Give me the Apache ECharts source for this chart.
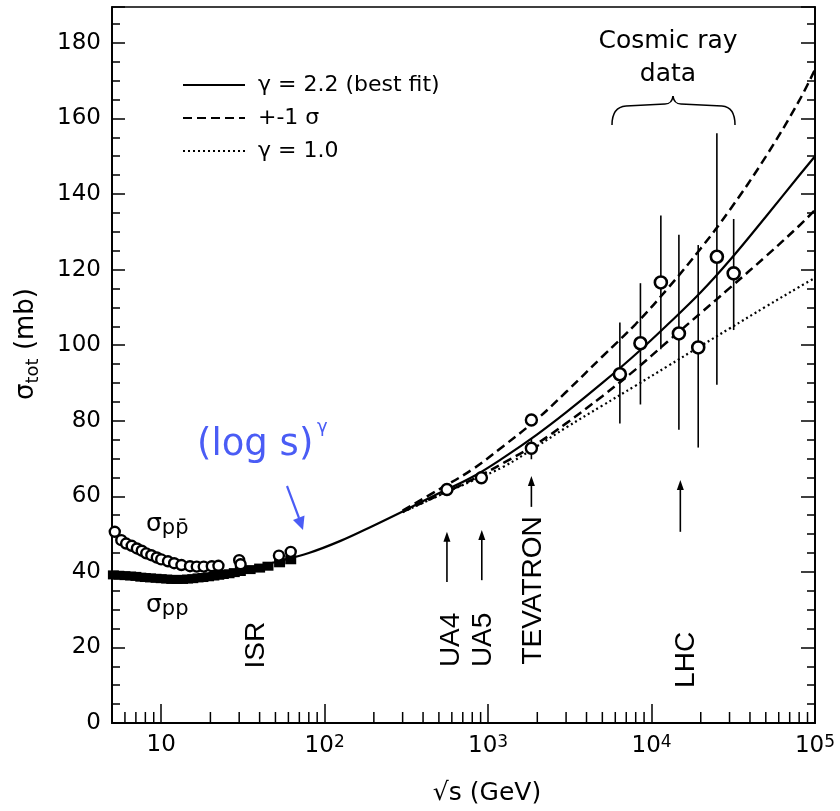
<!DOCTYPE html>
<html><head><meta charset="utf-8">
<script src="https://cdn.jsdelivr.net/npm/echarts@6/dist/echarts.min.js"></script>
<style>html,body{margin:0;padding:0;background:#fff}#c{width:840px;height:811px}</style>
</head><body><div id="c"></div>
<script>
// ---------------- data ----------------
const fitEnergy = [20,30,50,80,125,200,300,500,800,1250,2000,3000,5000,8000,12500,20000,30000,50000,80000,100000];
const fitBest   = [38.7,40.1,42.6,45.0,48.2,52.3,56.0,60.8,65.1,70.3,76.4,82.2,90.0,97.6,105.4,114.0,122.4,134.0,144.9,150.0];
const bandEnergy = [300,500,800,1250,2000,3000,5000,8000,12500,20000,30000,50000,80000,100000];
const fitUpper  = [56.2,61.8,67.1,73.4,80.5,87.6,97.0,105.6,114.9,125.6,135.7,149.9,164.7,173.0];
const fitLower  = [55.9,60.3,64.4,68.9,74.0,79.3,86.5,93.6,100.9,108.5,115.1,123.5,131.6,135.8];
const fitGamma1 = [55.8,60.2,64.1,67.9,73.3,78.2,84.0,89.3,94.4,99.8,104.4,110.2,115.4,117.8];

const ppbarEnergy = [5.2,5.7,6.1,6.6,7.1,7.6,8.1,8.7,9.4,10,11,12,13.3,15,16.5,18.2,20.4,22.4,30,30.6,52.5,62];
const ppbarSigma  = [50.6,48.4,47.5,46.9,46.2,45.6,44.9,44.4,43.8,43.3,42.8,42.3,41.8,41.5,41.4,41.4,41.5,41.6,43.1,42.0,44.3,45.3];

const ppEnergy = [5.1,5.5,6.0,6.5,7.0,7.5,8.0,8.6,9.3,10,10.8,11.6,12.5,13.5,14.5,15.6,16.8,18,19.5,21,22.5,24,26,28,30.5,35,40,45,53,62];
const ppSigma  = [39.2,39.1,39.0,38.9,38.8,38.6,38.5,38.4,38.3,38.2,38.1,38.0,38.0,38.0,38.1,38.2,38.4,38.5,38.7,38.9,39.1,39.3,39.5,39.8,40.1,40.6,41.0,41.5,42.4,43.2];

const accEnergy = [560, 910, 1840, 1840];
const accSigma  = [61.8, 64.9, 80.2, 72.7];
const accLow    = [60.8, 63.9, 78.8, 69.8];
const accHigh   = [62.8, 65.9, 81.6, 75.2];

const cosmicEnergy = [6400, 8550, 11400, 14700, 19300, 25100, 31800];
const cosmicSigma  = [92.3, 100.5, 116.6, 103.1, 99.4, 123.4, 119.0];
const cosmicLow    = [79.3, 84.3, 98.9, 77.6, 72.9, 89.5, 104.0];
const cosmicHigh   = [106.0, 116.4, 134.3, 129.2, 126.5, 156.1, 133.4];

const xMinorTicks = [6,7,8,9,20,30,40,50,60,70,80,90,200,300,400,500,600,700,800,900,
  2000,3000,4000,5000,6000,7000,8000,9000,20000,30000,40000,50000,60000,70000,80000,90000];

const experiments = [
  {name:'ISR',      labelE:38.2,  labelY:20.6},
  {name:'UA4',      arrowE:560,   a0:37.3, a1:50.6, labelE:594,   labelY:22.0},
  {name:'UA5',      arrowE:915,   a0:37.8, a1:51.1, labelE:935,   labelY:22.0},
  {name:'TEVATRON', arrowE:1840,  a0:57.2, a1:65.4, labelE:1897,  labelY:35.1},
  {name:'LHC',      arrowE:15000, a0:50.6, a1:64.3, labelE:16200, labelY:16.7}
];

const legendNames = ['γ = 2.2 (best fit)', '+-1 σ', 'γ = 1.0'];
const legendDash  = ['solid', [9,5], [2,3]];
const yLabels = [0,20,40,60,80,100,120,140,160,180];

// ---------------- chart ----------------
const chart = echarts.init(document.getElementById('c'), null, {renderer:'canvas'});
const F = 'DejaVu Sans';
const pair = (xs, ys) => xs.map((x,i)=>[x, ys[i]]);

function yAxisDef(pos, interval, len, labels){
  return {
    type:'value', position:pos, min:0, max:189.5, interval:interval,
    axisLine:{show:true, lineStyle:{color:'#000', width:1.5}},
    axisTick:{show:true, inside:true, length:len, lineStyle:{color:'#000', width:1.5}},
    splitLine:{show:false},
    axisLabel:{show:labels, margin:11, color:'#000', fontFamily:F, fontSize:23,
      formatter:v => yLabels.indexOf(v) >= 0 ? String(v) : ''}
  };
}

const errRender = (params, api) => {
  const x = api.value(0);
  const p1 = api.coord([x, api.value(1)]);
  const p2 = api.coord([x, api.value(2)]);
  return {type:'line', shape:{x1:p1[0], y1:p1[1], x2:p2[0], y2:p2[1]},
          style:{stroke:'#000', lineWidth:1.6}};
};

const option = {
  animation:false,
  backgroundColor:'#fff',
  grid:{left:112, right:25, top:7, bottom:88, show:true, borderColor:'#000', borderWidth:1.5},
  xAxis:{
    type:'log', logBase:10, min:5, max:100000,
    axisLine:{show:true, lineStyle:{color:'#000', width:1.8}},
    axisTick:{show:true, inside:true, length:19, lineStyle:{color:'#000', width:1.5}},
    splitLine:{show:false},
    axisLabel:{margin:11, color:'#000', fontFamily:F, fontSize:23,
      formatter:v => {
        const l = Math.log10(v), k = Math.round(l);
        if (Math.abs(l-k) > 1e-6) return '';
        return k === 1 ? '10' : '10{sup|' + k + '}';
      },
      rich:{sup:{fontFamily:F, fontSize:17, verticalAlign:'top', color:'#000', padding:[0,0,8,0]}}
    }
  },
  yAxis:[yAxisDef('left',20,13,true), yAxisDef('left',5,8,false),
         yAxisDef('right',20,14,false), yAxisDef('right',5,8,false)],
  series:[
    {name:legendNames[0], type:'line', data:pair(fitEnergy, fitBest), smooth:0.4,
     symbol:'none', showSymbol:false, z:2, lineStyle:{color:'#000', width:2.2, type:'solid'}},
    {name:legendNames[1], type:'line', data:pair(bandEnergy, fitUpper), smooth:0.4,
     symbol:'none', showSymbol:false, z:2, lineStyle:{color:'#000', width:2.5, type:[9,5]}},
    {name:legendNames[1], type:'line', data:pair(bandEnergy, fitLower), smooth:0.4,
     symbol:'none', showSymbol:false, z:2, lineStyle:{color:'#000', width:2.5, type:[9,5]}},
    {name:legendNames[2], type:'line', data:pair(bandEnergy, fitGamma1), smooth:0.4,
     symbol:'none', showSymbol:false, z:2, lineStyle:{color:'#000', width:2.2, type:[2,3]}},
    {name:'err', type:'custom', renderItem:errRender, z:3,
     data:accEnergy.map((e,i)=>[e, accLow[i], accHigh[i]]).concat(cosmicEnergy.map((e,i)=>[e, cosmicLow[i], cosmicHigh[i]])),
     encode:{x:0, y:[1,2]}},
    {name:'pp', type:'scatter', data:pair(ppEnergy, ppSigma), symbol:'rect', symbolSize:[11,9], z:4,
     itemStyle:{color:'#000', opacity:1}},
    {name:'ppbar', type:'scatter', data:pair(ppbarEnergy, ppbarSigma), symbol:'circle', symbolSize:10, z:5,
     itemStyle:{color:'#fff', borderColor:'#000', borderWidth:2.4, opacity:1}},
    {name:'acc', type:'scatter', data:pair(accEnergy, accSigma), symbol:'circle', symbolSize:11, z:5,
     itemStyle:{color:'#fff', borderColor:'#000', borderWidth:2.4, opacity:1}},
    {name:'cosmic', type:'scatter', data:pair(cosmicEnergy, cosmicSigma), symbol:'circle', symbolSize:12, z:5,
     itemStyle:{color:'#fff', borderColor:'#000', borderWidth:2.6, opacity:1}},
    {name:'minorTicks', type:'custom', z:3, silent:true,
     data:xMinorTicks.map(v=>[v,0]), encode:{x:0, y:1},
     renderItem:(params, api) => {
       const p = api.coord([api.value(0), 0]);
       return {type:'line', shape:{x1:p[0], y1:p[1], x2:p[0], y2:p[1]-11}, style:{stroke:'#000', lineWidth:1.5}};
     }}
  ]
};
chart.setOption(option);

// ---------------- annotations ----------------
const px = (e, v) => chart.convertToPixel({gridIndex:0}, [e, v]);
const g = [];
function arrow(x, y0, y1, color, w){
  g.push({type:'line', shape:{x1:x, y1:y0, x2:x, y2:y1+8}, style:{stroke:color, lineWidth:w}, z:10});
  g.push({type:'polygon', shape:{points:[[x, y1], [x-3.5, y1+10], [x+3.5, y1+10]]}, style:{fill:color}, z:10});
}
experiments.forEach(ex => {
  const lp = px(ex.labelE, ex.labelY);
  g.push({type:'text', x:lp[0], y:lp[1], rotation:Math.PI/2, z:10,
    style:{text:ex.name, font:'28px "Liberation Sans"', fill:'#000', align:'center', verticalAlign:'middle'}});
  if (ex.arrowE){
    const a = px(ex.arrowE, ex.a0), b = px(ex.arrowE, ex.a1);
    arrow(a[0], a[1], b[1], '#000', 1.6);
  }
});
// legend (drawn by hand so the line styles match)
legendNames.forEach((name, i) => {
  const y = 85 + i * 33;
  g.push({type:'line', shape:{x1:183, y1:y, x2:245, y2:y}, z:10,
    style:{stroke:'#000', lineWidth:2, lineDash: legendDash[i] === 'solid' ? null : legendDash[i]}});
  g.push({type:'text', x:258, y:y, z:10,
    style:{text:name, font:'22px "DejaVu Sans"', fill:'#000', verticalAlign:'middle'}});
});
// axis titles
g.push({type:'text', x:26, y:344, rotation:Math.PI/2, z:10,
  style:{text:'{a|σ}{b|tot}{a| (mb)}', align:'center', verticalAlign:'middle',
    rich:{a:{fontFamily:F, fontSize:26, color:'#000', lineHeight:32, verticalAlign:'middle'},
          b:{fontFamily:F, fontSize:18, color:'#000', lineHeight:32, verticalAlign:'bottom'}}}});
g.push({type:'text', x:487, y:793, z:10,
  style:{text:'√s (GeV)', font:'25px "DejaVu Sans"', fill:'#000', align:'center', verticalAlign:'middle'}});
// cosmic ray label + brace
g.push({type:'text', x:668, y:58, z:10,
  style:{text:'Cosmic ray\ndata', font:'25px "DejaVu Sans"', lineHeight:33, fill:'#000', align:'center', verticalAlign:'middle'}});
const bs = {stroke:'#000', lineWidth:1.5, fill:null};
g.push({type:'bezierCurve', shape:{x1:612, y1:125, cpx1:612, cpy1:107, x2:626, y2:106}, style:bs, z:10});
g.push({type:'line', shape:{x1:626, y1:106, x2:665, y2:104}, style:bs, z:10});
g.push({type:'bezierCurve', shape:{x1:665, y1:104, cpx1:672, cpy1:104, x2:673, y2:96}, style:bs, z:10});
g.push({type:'bezierCurve', shape:{x1:673, y1:96, cpx1:674, cpy1:104, x2:681, y2:104}, style:bs, z:10});
g.push({type:'line', shape:{x1:681, y1:104, x2:722, y2:106}, style:bs, z:10});
g.push({type:'bezierCurve', shape:{x1:722, y1:106, cpx1:735, cpy1:107, x2:735, y2:125}, style:bs, z:10});
// sigma labels
const sigRich = {s:{fontFamily:F, fontSize:25, color:'#000', lineHeight:30, verticalAlign:'middle'},
                 p:{fontFamily:F, fontSize:21, color:'#000', lineHeight:30, verticalAlign:'bottom'}};
g.push({type:'text', x:146, y:524, z:10, style:{text:'{s|σ}{p|pp\u0304}', verticalAlign:'middle', rich:sigRich}});
g.push({type:'text', x:146, y:605, z:10, style:{text:'{s|σ}{p|pp}', verticalAlign:'middle', rich:sigRich}});
// blue (log s)^gamma annotation
const blue = '#4a5cf5';
g.push({type:'text', x:197, y:445, z:10,
  style:{text:'(log s)', font:'37px "Comic Sans MS","DejaVu Sans"', fill:blue, verticalAlign:'middle'}});
g.push({type:'text', x:317, y:427, z:10,
  style:{text:'γ', font:'18px "DejaVu Sans"', fill:blue, verticalAlign:'middle'}});
g.push({type:'line', shape:{x1:287, y1:486, x2:299, y2:518}, style:{stroke:blue, lineWidth:2.2}, z:10});
g.push({type:'polygon', shape:{points:[[303,530],[293,520],[304.5,515.5]]}, style:{fill:blue}, z:10});

chart.setOption({graphic:g});
</script></body></html>
